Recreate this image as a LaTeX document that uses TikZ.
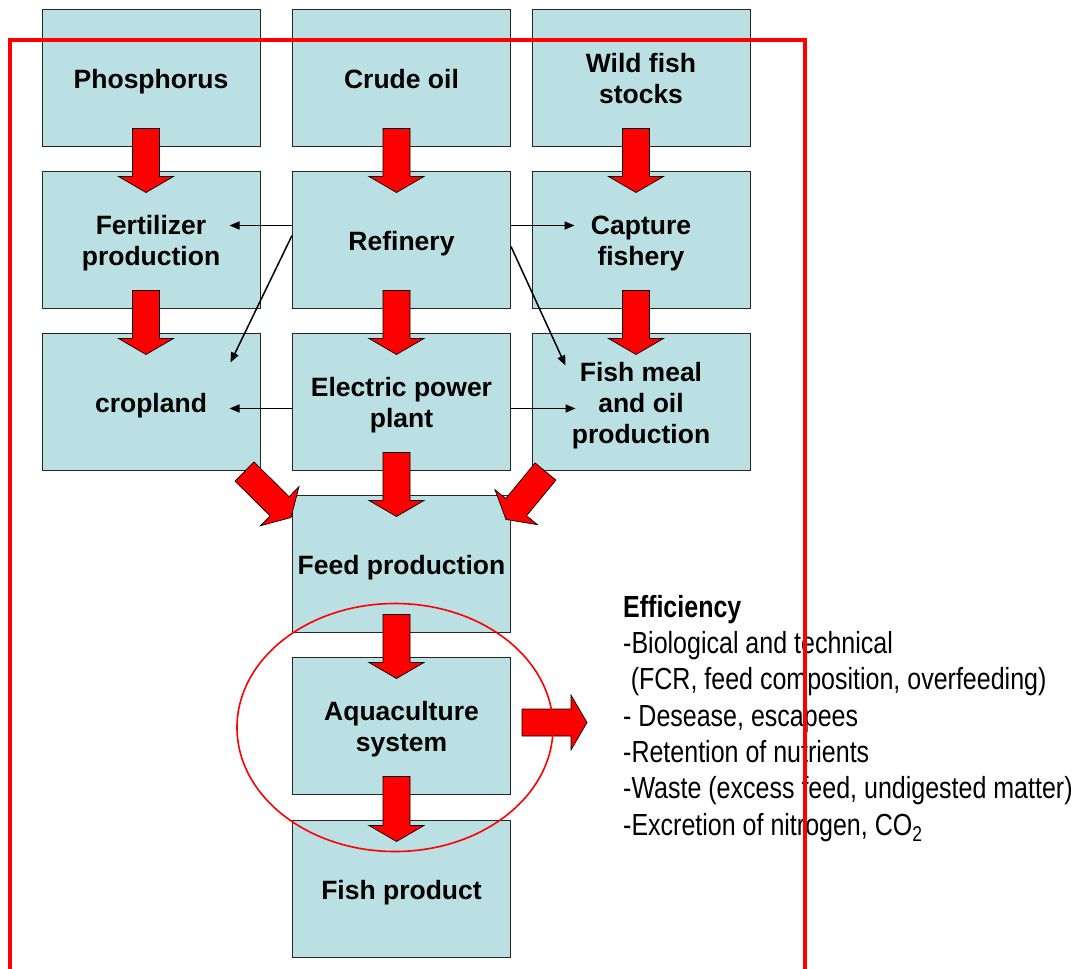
\documentclass[tikz,border=0pt]{standalone}
\usepackage{fontspec}
\setmainfont{Liberation Sans}
\newfontfamily\narrowfont{Liberation Sans}[FakeStretch=0.82]
\usetikzlibrary{calc,arrows.meta}
\definecolor{boxcyan}{HTML}{BBE0E3}

\begin{document}
\begin{tikzpicture}
[x=1pt,y=-1pt,
  boxDecorate/.style={shape=rectangle,draw=black!85,line width=1pt,fill=boxcyan,
    minimum width=218pt,minimum height=137pt,inner sep=0pt,align=center,
    font=\bfseries\fontsize{26.5}{31}\selectfont},%
  thinArrow/.style={-{Triangle[length=10pt,width=8pt]},line width=1.5pt},%
  fatArrow/.style={fill=red,draw=black,line width=0.7pt,
    to path={let \p1=(\tikztostart), \p2=(\tikztotarget),
      \p3=($(\p2)!16pt!(\p1)$) in
      ($(\p1)!13.5pt!90:(\p2)$) -- ($(\p3)!13.5pt!90:(\p2)$)
      -- ($(\p3)!27.5pt!90:(\p2)$) -- (\p2)
      -- ($(\p3)!27.5pt!-90:(\p2)$) -- ($(\p3)!13.5pt!-90:(\p2)$)
      -- ($(\p1)!13.5pt!-90:(\p2)$) -- cycle}},%
  frameDecorate/.style={red,line width=3.5pt}]
\clip (0,0) rectangle (1079,969);
%% boxes
\foreach \nodename/\x/\y/\nodetext in {phos/151/77.5/Phosphorus, crude/401.5/77.5/Crude oil,
    wild/641/77.5/{Wild fish\\stocks}, fert/151/239.5/{Fertilizer\\production},
    ref/401.5/239.5/Refinery, capt/641/239.5/{Capture\\fishery},
    crop/151/401.5/cropland, elec/401.5/401.5/{Electric power\\plant},
    meal/641/401.5/{Fish meal\\and oil\\production}, feed/401.5/563.5/Feed production,
    aqua/401.5/725.5/{Aquaculture\\system}, fish/401.5/888.5/Fish product} {
  \node (\nodename) at (\x,\y) [boxDecorate] {\rule{0pt}{27pt}\nodetext\rule[-6pt]{0pt}{6pt}};
}
%% thin arrows from refinery and power plant
\draw[thinArrow] ($(ref.west)+(0,-14)$) -- ($(fert.east)+(-31,-14)$);
\draw[thinArrow] ($(ref.west)+(0,-4)$) -- ($(crop.east)+(-30,-39)$);
\draw[thinArrow] ($(ref.east)+(0,-14)$) -- ($(capt.west)+(43,-14)$);
\draw[thinArrow] ($(ref.east)+(0,7)$) -- ($(meal.west)+(34,-36)$);
\draw[thinArrow] ($(elec.west)+(0,7)$) -- ($(crop.east)+(-31,7)$);
\draw[thinArrow] ($(elec.east)+(0,7)$) -- ($(meal.west)+(44,7)$);
%% big arrows
\path
\foreach \startnode/\endnode in {phos/fert, crude/ref, wild/capt, fert/crop, ref/elec,
    capt/meal, elec/feed, feed/aqua, aqua/fish} {
  ($(\startnode.south)+(-5,-18)$) edge[fatArrow] ($(\endnode.north)+(-5,22)$)
};
\path ($(crop.south east)+(-16,1)$) edge[fatArrow] ($(feed.north west)+(-1,23)$);
\path ($(meal.south west)+(14,1)$) edge[fatArrow] ($(feed.north east)+(-5,25)$);
\path ($(aqua.east)+(11,-3)$) edge[fatArrow] ($(aqua.east)+(76,-3)$);
%% circle round the aquaculture system
\draw[red,line width=1.6pt] ($(aqua.center)+(-6.5,2)$) ellipse [x radius=158pt,y radius=124pt];
%% efficiency list
\node (eff) at (623,595) [anchor=north west,inner sep=0pt,align=left,
    font=\narrowfont\fontsize{30.5}{36.3}\selectfont]
  {\textbf{Efficiency}\\-Biological and technical\\
   \hspace{0.25em}(FCR, feed composition, overfeeding)\\- Desease, escapees\\
   -Retention of nutrients\\-Waste (excess feed, undigested matter)\\
   -Excretion of nitrogen, CO\textsubscript{2}};
%% system frame
\draw[frameDecorate] (10,990) -- (10,40) -- (805,40) -- (805,990);
\end{tikzpicture}
\end{document}
